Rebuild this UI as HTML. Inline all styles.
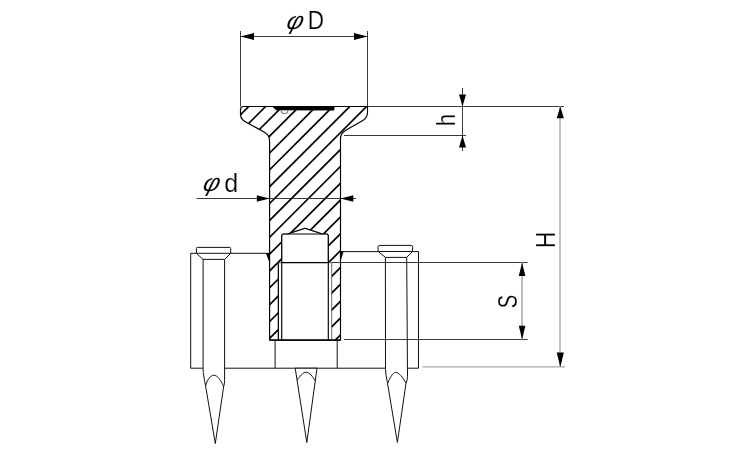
<!DOCTYPE html>
<html><head><meta charset="utf-8"><title>drawing</title>
<style>
html,body{margin:0;padding:0;background:#fff;}
svg{display:block;will-change:transform}
text{font-family:"Liberation Sans",sans-serif;fill:#000}
</style></head><body>
<svg width="750" height="450" viewBox="0 0 750 450">
<rect width="750" height="450" fill="#fff"/>
<defs>
<clipPath id="bodyclip"><path clip-rule="evenodd" d="M240.5 109.5 Q240.5 106.5 243.5 106.5 L367.5 106.5 L367.5 112.5 C367.5 117 365.5 119 362 121 L347 129.5 C342.5 132 340.5 134 340.5 139 L340.5 340.1 L269.6 340.1 L269.6 141.5 C269.6 136.5 268 134.5 264 132 L248.5 123.5 C243.5 121 240.5 119 240.5 114.5 L240.5 109.5 Z M281.7 262.7 L281.7 235.2 L283 234 L287.5 234 L305 228.3 L322.5 234 L327 234 L328.3 235.2 L328.3 262.7 L331.7 262.7 L331.7 340.1 L278.3 340.1 L278.3 262.7 Z"/></clipPath>
</defs>

<!-- plate -->
<g fill="none" stroke="#111" stroke-width="1">
<path d="M269.6 253.3 L190.7 253.3 L190.7 368.2 L418.5 368.2 L418.5 251.6 L340.5 251.6"/>
<line x1="275.1" y1="340.1" x2="275.1" y2="368.2"/>
<line x1="337.2" y1="340.1" x2="337.2" y2="368.2"/>
</g>

<!-- hatch -->
<g clip-path="url(#bodyclip)" stroke="#000" stroke-width="1.7" fill="none">
<line x1="225" y1="96.5" x2="385" y2="-63.5"/>
<line x1="225" y1="113.3" x2="385" y2="-46.7"/>
<line x1="225" y1="130.2" x2="385" y2="-29.8"/>
<line x1="225" y1="147.1" x2="385" y2="-12.9"/>
<line x1="225" y1="163.9" x2="385" y2="3.9"/>
<line x1="225" y1="180.8" x2="385" y2="20.8"/>
<line x1="225" y1="197.6" x2="385" y2="37.6"/>
<line x1="225" y1="214.4" x2="385" y2="54.4"/>
<line x1="225" y1="231.3" x2="385" y2="71.3"/>
<line x1="225" y1="248.1" x2="385" y2="88.1"/>
<line x1="225" y1="265.0" x2="385" y2="105.0"/>
<line x1="225" y1="281.9" x2="385" y2="121.9"/>
<line x1="225" y1="298.7" x2="385" y2="138.7"/>
<line x1="225" y1="315.5" x2="385" y2="155.5"/>
<line x1="225" y1="332.4" x2="385" y2="172.4"/>
<line x1="225" y1="349.2" x2="385" y2="189.2"/>
<line x1="225" y1="366.1" x2="385" y2="206.1"/>
<line x1="225" y1="383.0" x2="385" y2="223.0"/>
<line x1="225" y1="399.8" x2="385" y2="239.8"/>
<line x1="225" y1="416.7" x2="385" y2="256.7"/>
<line x1="225" y1="433.5" x2="385" y2="273.5"/>
<line x1="225" y1="450.4" x2="385" y2="290.4"/>
<line x1="225" y1="467.2" x2="385" y2="307.2"/>
<line x1="225" y1="484.0" x2="385" y2="324.0"/>
<line x1="225" y1="500.9" x2="385" y2="340.9"/>
<line x1="225" y1="517.8" x2="385" y2="357.8"/>
<line x1="225" y1="534.6" x2="385" y2="374.6"/>
<line x1="225" y1="551.5" x2="385" y2="391.5"/>
<line x1="225" y1="568.3" x2="385" y2="408.3"/>
<line x1="225" y1="585.2" x2="385" y2="425.2"/>
<line x1="225" y1="602.0" x2="385" y2="442.0"/>
<line x1="225" y1="618.9" x2="385" y2="458.9"/>
</g>
<!-- body outline -->
<g fill="none" stroke="#000" stroke-width="1.15" stroke-linejoin="round">
<path d="M240.5 109.5 Q240.5 106.5 243.5 106.5 L367.5 106.5 L367.5 112.5 C367.5 117 365.5 119 362 121 L347 129.5 C342.5 132 340.5 134 340.5 139 L340.5 340.1 L269.6 340.1 L269.6 141.5 C269.6 136.5 268 134.5 264 132 L248.5 123.5 C243.5 121 240.5 119 240.5 114.5 L240.5 109.5 Z"/>
<path d="M281.7 262.7 L281.7 235.2 L283 234 L287.5 234 L305 228.3 L322.5 234 L327 234 L328.3 235.2 L328.3 262.7 L331.7 262.7 L331.7 340.1 L278.3 340.1 L278.3 262.7 Z" stroke-width="0.8" stroke="#444"/>
<line x1="278.4" y1="262.7" x2="278.4" y2="340.1"/>
<path d="M281.7 340.1 L281.7 235.2 L283 234 L287.5 234 L305 228.3 L322.5 234 L327 234 L328.3 235.2 L328.3 340.1"/>
<line x1="281.7" y1="262.7" x2="328.3" y2="262.7" stroke-width="1.3"/>
<line x1="287.5" y1="234" x2="322.5" y2="234"/>
<line x1="269.6" y1="340.1" x2="340.5" y2="340.1" stroke-width="1.3"/>
<path d="M281 110.5 A3.5 3.2 0 0 0 288 110.5" stroke-width="0.6"/>
</g>
<!-- head top black bar -->
<path d="M272 106.3 L334.6 106.3 L334.2 110.6 L276 110.2 Z" fill="#000"/>
<!-- weld fillets -->
<path d="M265.8 253 L269.8 253 L269.8 263.5 Z" fill="#000"/>
<path d="M343.6 251.3 L340.2 251.3 L340.2 262.6 Z" fill="#000"/>

<!-- nails -->
<g fill="#fff" stroke="#111" stroke-width="1" stroke-linejoin="round">
<!-- left nail -->
<path d="M196.4 253.3 L196.4 248.4 Q196.4 247.4 197.4 247.4 L229.7 247.4 Q230.7 247.4 230.7 248.4 L230.7 253.3 L224.6 259.4 L224.6 380.3 Q224.6 384 223.6 386.8 L215.3 443.6 L205.6 386 Q203.2 374 203.1 370 L203.1 259.4 Z"/>
<line x1="203.1" y1="259.4" x2="224.6" y2="259.4"/>
<line x1="196.4" y1="253.3" x2="230.7" y2="253.3"/>
<path d="M205.6 386 C207 380 210.5 375.2 213.7 375.2 C217.5 375.2 221.5 381 223.6 386.8" fill="none"/>
<!-- right nail -->
<path d="M378.3 251.5 L377.9 247.4 Q377.9 245.4 379.9 245.4 L410.8 245.4 Q412.8 245.4 412.8 247.4 L412.3 251.5 L406.7 257.4 L407.5 376.5 Q407.5 380 406 383.2 L397.4 442.5 L387.6 383.7 Q385.6 374 385.5 369.5 L385.4 257.4 Z"/>
<line x1="385.4" y1="257.4" x2="406.7" y2="257.4"/>
<line x1="378.3" y1="251.5" x2="412.3" y2="251.5"/>
<path d="M387.6 383.7 C389.5 378.5 392.8 372.4 395.6 372.4 C399 372.4 403 377.5 406 383.2" fill="none"/>
<!-- middle nail -->
<path d="M295.2 368.2 L306.8 442.5 L317 368.2 Z"/>
<path d="M297.1 380 C299.5 377 303 372.2 306 372.2 C309.5 372.2 313 377 315.1 380.7" fill="none"/>
</g>

<!-- dimension: phi D -->
<g stroke="#222" stroke-width="0.9" fill="none">
<line x1="240.5" y1="31" x2="240.5" y2="106.5"/>
<line x1="367.5" y1="31" x2="367.5" y2="106.5"/>
<line x1="240.5" y1="36.5" x2="367.5" y2="36.5"/>
</g>
<path d="M240.5 36.5 L254 33 L254 40 Z" fill="#000"/>
<path d="M367.5 36.5 L354 33 L354 40 Z" fill="#000"/>

<!-- dimension: phi d -->
<line x1="196.5" y1="198.5" x2="356" y2="198.5" stroke="#222" stroke-width="0.9"/>
<path d="M269.6 198.5 L256.8 195.2 L256.8 201.8 Z" fill="#000"/>
<path d="M340.5 198.5 L353.3 195.2 L353.3 201.8 Z" fill="#000"/>

<!-- dimension: h -->
<g stroke="#222" stroke-width="0.9" fill="none">
<line x1="367.5" y1="106.5" x2="564" y2="106.5"/>
<line x1="344" y1="135.5" x2="466" y2="135.5"/>
<line x1="462.5" y1="88" x2="462.5" y2="151"/>
</g>
<path d="M462.5 106.5 L459 94.6 L466 94.6 Z" fill="#000"/>
<path d="M462.5 135.5 L459 147.5 L466 147.5 Z" fill="#000"/>

<!-- dimension: S -->
<g stroke="#222" stroke-width="0.9" fill="none">
<line x1="331.7" y1="262.5" x2="527.7" y2="262.5"/>
<line x1="344" y1="339.5" x2="527.7" y2="339.5"/>
</g>
<line x1="522" y1="262.5" x2="522" y2="339.5" stroke="#bcbcbc" stroke-width="2"/>
<path d="M522.1 262.5 L518.8 276 L525.4 276 Z" fill="#000"/>
<path d="M522.1 339.5 L518.8 325.7 L525.4 325.7 Z" fill="#000"/>

<!-- dimension: H -->
<line x1="560" y1="106.5" x2="560" y2="367" stroke="#c0c0c0" stroke-width="2"/>
<line x1="422.5" y1="366.8" x2="565" y2="366.8" stroke="#aaa" stroke-width="1.3"/>
<path d="M560.3 106.4 L556.7 118.3 L563.9 118.3 Z" fill="#000"/>
<path d="M560.3 367 L556.7 352.6 L563.9 352.6 Z" fill="#000"/>

<!-- labels -->
<g font-size="26.5" stroke="#fff" stroke-width="0.2">
<text font-style="italic" stroke-width="0.1" transform="translate(285.2 29.2) skewX(-15) scale(0.95 0.93)">φ</text>
<text transform="translate(307.7 29.4) scale(0.85 1)">D</text>
<text font-style="italic" stroke-width="0.1" transform="translate(201.8 191.4) skewX(-15) scale(0.95 0.93)">φ</text>
<text transform="translate(224.2 191.7) scale(0.95 1)">d</text>
<text transform="translate(454.8 126.3) rotate(-90) scale(0.85 1)">h</text>
<text transform="translate(554.7 248) rotate(-90) scale(0.85 1.03)">H</text>
<text transform="translate(517.2 308.2) rotate(-90) scale(0.76 1.06)">S</text>
</g>
</svg>
</body></html>
